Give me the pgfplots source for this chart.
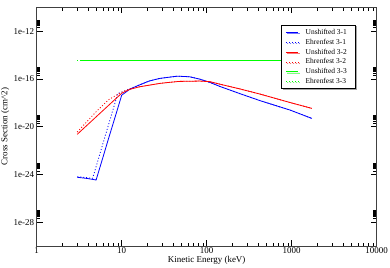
\documentclass[border=0pt]{standalone}
\usepackage{pgfplots}
\pgfplotsset{compat=1.18}
\usepackage{fontspec}
\setmainfont{Liberation Serif}
\usetikzlibrary{shadows}
\definecolor{xblue}{RGB}{0,0,255}
\definecolor{xred}{RGB}{255,0,0}
\definecolor{xgreen}{RGB}{0,255,0}
\begin{document}
\begin{tikzpicture}
\begin{axis}[
  name=ax,
  scale only axis, width=340bp, height=238.7bp,
  xmode=log, ymode=log,
  xmin=1, xmax=10000, ymin=1e-30, ymax=1e-10,
  xtick={1,10,100,1000,10000},
  xticklabels={1,10,100,1000,10000},
  minor xtick={2,3,4,5,6,7,8,9,20,30,40,50,60,70,80,90,200,300,400,500,600,700,800,900,2000,3000,4000,5000,6000,7000,8000,9000},
  ytick={1e-28,1e-24,1e-20,1e-16,1e-12},
  yticklabels={1e-28,1e-24,1e-20,1e-16,1e-12},
  minor ytick={2e-28,3e-28,4e-28,5e-28,6e-28,7e-28,8e-28,9e-28,
               2e-24,3e-24,4e-24,5e-24,6e-24,7e-24,8e-24,9e-24,
               2e-20,3e-20,4e-20,5e-20,6e-20,7e-20,8e-20,9e-20,
               2e-16,3e-16,4e-16,5e-16,6e-16,7e-16,8e-16,9e-16,
               2e-12,3e-12,4e-12,5e-12,6e-12,7e-12,8e-12,9e-12},
  tick align=inside,
  major tick length=6bp, minor tick length=3.5bp,
  every tick/.style={black, line width=0.5bp},
  axis line style={black!75, line width=0.9bp},
  tick label style={font=\fontsize{9}{10}\selectfont},
  xticklabel style={inner sep=1.5bp},
  yticklabel style={inner sep=2.5bp},
  label style={font=\fontsize{9}{10}\selectfont},
  xlabel={Kinetic Energy (keV)},
  ylabel={Cross Section (cm\^{}2)},
  xlabel style={at={(axis description cs:0.5,0)}, anchor=north, inner sep=0pt, yshift=-10.5bp},
  ylabel style={at={(axis description cs:-0.086,0.5)}, anchor=base, inner sep=0pt},
  legend style={at={(0.939,0.926)}, anchor=north east, draw=black, fill=white,
    line width=0.6bp,
    font=\fontsize{7.5}{8}\selectfont,
    inner xsep=4bp, inner ysep=3.2bp, column sep=7bp, row sep=2.6bp,
    nodes={inner sep=0bp, text height=5.8bp, text depth=1.5bp},
    drop shadow={shadow xshift=1.2bp, shadow yshift=-1.2bp, fill=black!70},
    cells={anchor=west}},
  legend image code/.code={\draw[#1, line width=0.6bp] (0bp,0bp) -- (12.5bp,0bp);},
  every axis plot/.append style={line width=0.8bp},
  clip=true,
]
% Unshifted 3-1
\addplot[xblue, solid] coordinates {
(3,5.75e-25) (4,4.47e-25) (5,3.39e-25) (6,2.51e-23) (7,1e-21) (8,2.24e-20) (9,3.55e-19)
(10,4.37e-18) (11,7.08e-18) (12.5,1.41e-17) (16,3.02e-17) (21,6.61e-17) (28,1.10e-16)
(45,1.70e-16) (63,1.51e-16) (83,9.55e-17) (110,5.01e-17) (143,2.34e-17) (245,5.89e-18)
(424,1.51e-18) (957,2.45e-19) (1727,4.9e-20)};
\addlegendentry{\makebox[46bp][l]{Unshifted 3-1}}
% Ehrenfest 3-1
\addplot[xblue, dash pattern=on 1bp off 2bp] coordinates {
(3,6.31e-25) (4,5.25e-25) (4.55,4.68e-25) (5,4.47e-24) (6,3.55e-22) (7,1.45e-20) (8,3.55e-19)
(9,6.17e-18) (10,7.59e-18) (12.5,1.51e-17) (16,3.02e-17) (21,6.61e-17) (28,1.10e-16)
(45,1.70e-16) (63,1.51e-16) (83,9.55e-17) (110,5.01e-17) (143,2.34e-17) (245,5.89e-18)
(424,1.51e-18) (957,2.45e-19) (1727,4.9e-20)};
\addlegendentry{\makebox[46bp][l]{Ehrenfest 3-1}}
% Unshifted 3-2
\addplot[xred, solid] coordinates {
(3,2.29e-21) (5,6.61e-20) (7,6.03e-19) (10,6.31e-18) (12.4,1.32e-17) (16.2,2.19e-17)
(21.3,3.02e-17) (27.9,4.17e-17) (36.3,5.13e-17) (47.3,6.17e-17) (82.8,6.61e-17)
(108.6,5.89e-17) (142.8,3.63e-17) (245.7,1.45e-17) (423.7,5.37e-18) (957,1.05e-18)
(1727,3.39e-19)};
\addlegendentry{\makebox[46bp][l]{Unshifted 3-2}}
% Ehrenfest 3-2
\addplot[xred, dash pattern=on 1bp off 2bp] coordinates {
(3,3.55e-21) (5,1.78e-19) (7,1.78e-18) (10,7.94e-18) (12.4,1.38e-17) (16.2,2.19e-17)
(21.3,3.02e-17) (27.9,4.17e-17) (36.3,5.13e-17) (47.3,6.17e-17) (82.8,6.61e-17)
(108.6,5.89e-17) (142.8,3.63e-17) (245.7,1.45e-17) (423.7,5.37e-18) (957,1.05e-18)
(1727,3.39e-19)};
\addlegendentry{\makebox[46bp][l]{Ehrenfest 3-2}}
% Unshifted 3-3
\addplot[xgreen, solid] coordinates {
(3.25,3.72e-15) (10,3.72e-15) (100,3.72e-15) (1000,3.72e-15) (1727,3.72e-15)};
\addlegendentry{\makebox[46bp][l]{Unshifted 3-3}}
% Ehrenfest 3-3
\addplot[xgreen, dash pattern=on 1bp off 2bp] coordinates {
(3,3.72e-15) (10,3.72e-15) (100,3.72e-15) (1000,3.72e-15) (1727,3.72e-15)};
\addlegendentry{\makebox[46bp][l]{Ehrenfest 3-3}}
\end{axis}
\pgfresetboundingbox
\path[use as bounding box] (ax.south west) ++(-36.7bp,-22bp) rectangle ++(390bp,268bp);
\end{tikzpicture}
\end{document}
